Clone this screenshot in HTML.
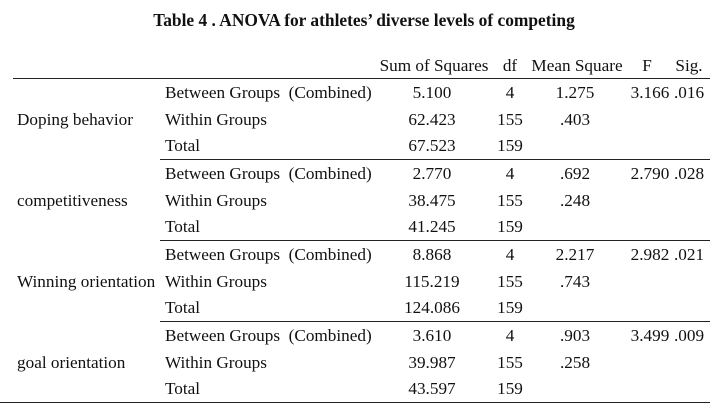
<!DOCTYPE html><html><head><style>
body{margin:0;width:728px;height:411px;background:#fff;position:relative;font-family:"Liberation Serif",serif;font-size:17.2px;color:#111;overflow:hidden}
.t{position:absolute;white-space:nowrap;line-height:20px}
.c{transform:translateX(-50%)}
.l{position:absolute;height:1px;background:#222}
</style></head><body>
<div class="t c" style="left:364px;top:10px;font-weight:bold;font-size:17.4px">Table 4 . ANOVA for athletes’ diverse levels of competing</div>
<div class="t c" style="left:434px;top:56px">Sum of Squares</div>
<div class="t c" style="left:510px;top:56px">df</div>
<div class="t c" style="left:577px;top:56px">Mean Square</div>
<div class="t c" style="left:647px;top:56px">F</div>
<div class="t c" style="left:689px;top:56px">Sig.</div>
<div class="l" style="left:13px;width:697px;top:78px"></div>
<div class="l" style="left:160px;width:550px;top:159px"></div>
<div class="l" style="left:160px;width:550px;top:240px"></div>
<div class="l" style="left:160px;width:550px;top:321px"></div>
<div class="l" style="left:0px;width:710px;top:402px"></div>
<div id="g"></div>
<script>
var d=[["Doping behavior",["5.100","4","1.275","3.166",".016"],["62.423","155",".403"],["67.523","159"]],
["competitiveness",["2.770","4",".692","2.790",".028"],["38.475","155",".248"],["41.245","159"]],
["Winning orientation",["8.868","4","2.217","2.982",".021"],["115.219","155",".743"],["124.086","159"]],
["goal orientation",["3.610","4",".903","3.499",".009"],["39.987","155",".258"],["43.597","159"]]];
var xs=[432,510,575,650,689],lab=["Between Groups&nbsp; (Combined)","Within Groups","Total"],h="";
d.forEach(function(g,i){var y0=83+i*81;
h+='<div class="t" style="left:17px;top:'+(y0+27)+'px">'+g[0]+'</div>';
for(var r=0;r<3;r++){var y=y0+r*26.5;h+='<div class="t" style="left:165px;top:'+y+'px">'+lab[r]+'</div>';
g[r+1].forEach(function(v,k){h+='<div class="t c" style="left:'+xs[k]+'px;top:'+y+'px">'+v+'</div>';});}});
document.getElementById('g').innerHTML=h;
</script>
</body></html>
